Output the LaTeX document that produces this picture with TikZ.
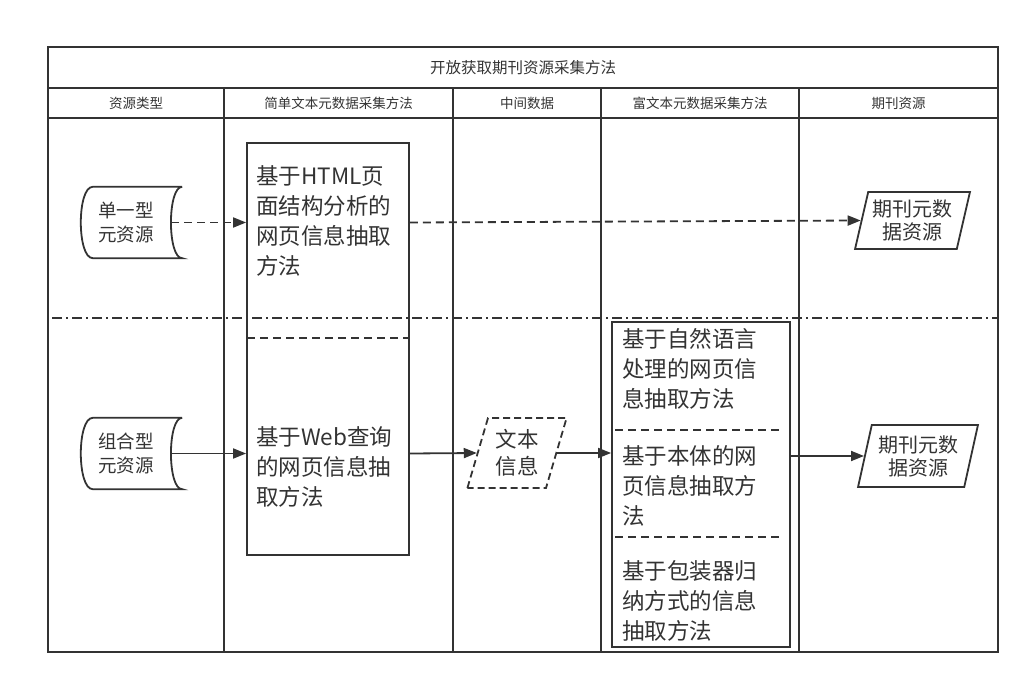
\documentclass[tikz,border=0pt]{standalone}
\usepackage{fontspec}
\setmainfont{Noto Sans CJK SC}
\usetikzlibrary{arrows.meta,shapes.geometric}
\definecolor{linec}{HTML}{333333}

\tikzset{
  laneline/.style={draw=linec,line width=1.8pt},
  headtxt/.style={text=linec,font=\fontsize{13.5}{16}\selectfont},
  store/.style={minimum width=90,minimum height=71,inner sep=0,align=center,text=linec,font=\fontsize{18.5}{23.5}\selectfont},
  methodbox/.style={draw=linec,line width=1.8pt,inner sep=0},
  method/.style={anchor=west,align=left,inner sep=0,text=linec,font=\fontsize{22.5}{30}\selectfont},
  divider/.style={draw=linec,line width=1.8pt,dash pattern=on 8pt off 5pt},
  datapar/.style={trapezium,trapezium left angle=74,trapezium right angle=106,trapezium stretches=true,
    draw=linec,line width=1.8pt,inner sep=0,align=center,text=linec,font=\fontsize{20}{23}\selectfont},
  flow/.style={-{Triangle[length=13pt,width=10pt]},draw=linec,line width=1.8pt},
  dashflow/.style={flow,dash pattern=on 8pt off 5pt},
}

\begin{document}
\begin{tikzpicture}[x=1pt,y=-1pt]
\useasboundingbox (0,0) rectangle (1030,684);

% lanes
\draw[laneline] (48,47) rectangle (998,652);
\draw[laneline] (48,88) -- (998,88);
\draw[laneline] (48,118) -- (998,118);
\foreach \x in {224,453,601,799}
  \draw[laneline] (\x,88) -- (\x,652);
\draw[draw=linec,line width=1.8pt,dash pattern=on 10pt off 4pt on 2pt off 4pt] (52,318) -- (998,318);

\node[headtxt,font=\fontsize{15.5}{18}\selectfont] (title) at (523,68) {开放获取期刊资源采集方法};
\node[headtxt] (h1) at (136,103) {资源类型};
\node[headtxt] (h2) at (338.5,103) {简单文本元数据采集方法};
\node[headtxt] (h3) at (527,103) {中间数据};
\node[headtxt] (h4) at (700,103) {富文本元数据采集方法};
\node[headtxt] (h5) at (898.5,103) {期刊资源};

% sources
\node[store] (src1) at (126,222.5) {单一型\\元资源};
\node[store] (src2) at (126,453.5) {组合型\\元资源};
\foreach \s in {src1,src2}
  \draw[draw=linec,line width=1.8pt]
    ([xshift=11pt]\s.north east) -- ([xshift=12pt]\s.north west)
    .. controls ([xshift=-4pt]\s.north west) and ([xshift=-4pt]\s.south west) .. ([xshift=12pt]\s.south west)
    -- ([xshift=11pt]\s.south east)
    .. controls ([xshift=-4pt]\s.south east) and ([xshift=-4pt]\s.north east) .. ([xshift=11pt]\s.north east);

% simple text methods
\node[methodbox,minimum width=162,minimum height=412] (boxa) at (328,349) {};
\draw[divider] (247,338) -- (409,338);
\node[method] (htmlm) at (256,221) {基于HTML页\\面结构分析的\\网页信息抽取\\方法};
\node[method] (webm) at (256,467) {基于Web查询\\的网页信息抽\\取方法};

% intermediate data
\node[datapar,trapezium left angle=72,trapezium right angle=108,dash pattern=on 7pt off 4pt,
  minimum width=100,minimum height=70,font=\fontsize{21.5}{27}\selectfont] (info) at (517,453) {文本\\信息};

% rich text methods
\node[methodbox,minimum width=178,minimum height=325] (boxb) at (701,484.5) {};
\draw[divider] (615,430) -- (780,430);
\draw[divider] (615,537) -- (783,537);
\node[method] (nlpm) at (622,369) {基于自然语言\\处理的网页信\\息抽取方法};
\node[method] (ontom) at (622,486) {基于本体的网\\页信息抽取方\\法};
\node[method] (wrapm) at (622,601) {基于包装器归\\纳方式的信息\\抽取方法};

% journal resources
\node[datapar,minimum width=115,minimum height=57] (pub1) at (912.5,220.5) {期刊元数\\据资源};
\node[datapar,minimum width=120,minimum height=62] (pub2) at (918,456) {期刊元数\\据资源};

% flows
\draw[dashflow] (src1.east) -- (src1.east -| boxa.west);
\draw[dashflow] (src1.east -| boxa.east) -- (pub1.west);
\draw[flow] (src2.east) -- (src2.east -| boxa.west);
\draw[flow] (src2.east -| boxa.east) -- (info.west);
\draw[flow] (info.east) -- (info.east -| boxb.west);
\draw[flow] (pub2.west -| boxb.east) -- (pub2.west);
\end{tikzpicture}
\end{document}
